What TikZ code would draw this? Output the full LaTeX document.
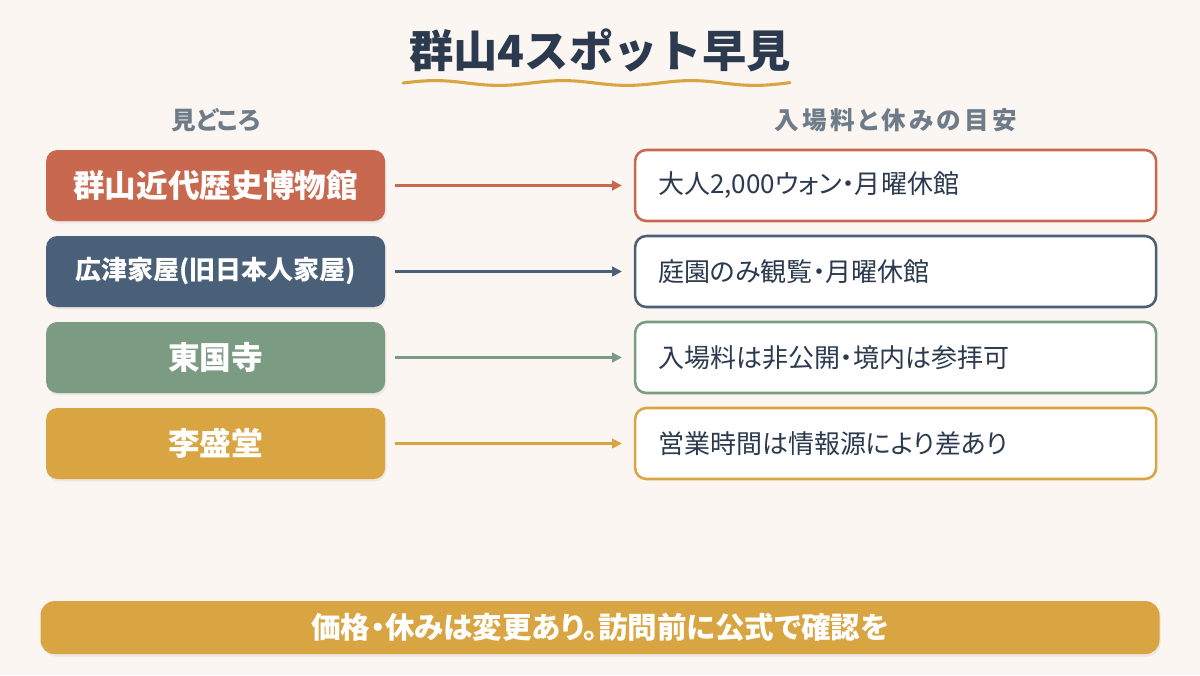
\documentclass[tikz,border=0pt]{standalone}
\usepackage{fontspec}
\usepackage{xcolor}
\usepackage{tikz}
\usetikzlibrary{shadows}
\usetikzlibrary{positioning, arrows.meta, calc}
\newfontfamily\jpfont[RawFeature=+palt]{Noto Sans CJK JP}
\newfontfamily\jptitle{Noto Sans CJK JP}

\definecolor{bgcream}{HTML}{FBF6F1}
\definecolor{titleink}{HTML}{2B3A4E}
\definecolor{headgray}{HTML}{6E7C8A}
\definecolor{terracotta}{HTML}{C8694F}
\definecolor{slate}{HTML}{4A5F78}
\definecolor{sage}{HTML}{7B9B82}
\definecolor{mustard}{HTML}{D9A542}

\begin{document}
\begin{tikzpicture}[
    spot/.style={rectangle, fill=#1, text=white, minimum width=8.475cm, minimum height=1.775cm,
        rounded corners=8pt, font=\jpfont\bfseries\fontsize{22.5}{27}\selectfont,
        drop shadow={opacity=0.12, shadow xshift=0.03cm, shadow yshift=-0.06cm}},
    info/.style={rectangle, draw=#1, line width=1.8pt, fill=white, text=titleink,
        text width=11.875cm, align=left, inner xsep=0.575cm, minimum height=1.775cm,
        rounded corners=8pt, font=\jpfont\fontsize{18.5}{22}\selectfont},
    link/.style={draw=#1, line width=1.5pt, -{Triangle[length=7pt, width=7pt]},
        shorten <=0.25cm, shorten >=0.3cm},
    header/.style={text=headgray, font=\jpfont\bfseries\fontsize{17.5}{21}\selectfont}
]
    % Canvas
    \useasboundingbox (0,0) rectangle (30,-16.875);
    \fill[bgcream] (0,0) rectangle (30,-16.875);

    % Title
    \node[text=titleink, font=\jptitle\bfseries\fontsize{31.5}{38}\selectfont] (title) at (15,-1.25) {群山4スポット早見};
    \draw[mustard, line width=2.2pt, line cap=round, domain=10.075:19.75, samples=90]
        plot (\x, {-2.075+0.06*sin(360*(\x-10.075)/3.2)});

    % Column headers
    \node[header] (hleft) at (5.39,-3.0) {見どころ};
    \node[header, font=\jpfont\bfseries\fontsize{17.5}{21}\selectfont\addfontfeature{LetterSpace=13}] (hright) at (22.39,-3.0) {入場料と休みの目安};

    % Spots
    \node[spot=terracotta] (museum) at (5.39,-4.6375) {群山近代歴史博物館};
    \node[spot=slate, font=\jpfont\bfseries\fontsize{18.5}{22}\selectfont] (hirotsu) at (5.39,-6.7875) {広津家屋(旧日本人家屋)};
    \node[spot=sage] (dongguk) at (5.39,-8.9375) {東国寺};
    \node[spot=mustard] (iseong) at (5.39,-11.0875) {李盛堂};

    % Fees and closing days
    \node[info=terracotta] (fee1) at (22.39,-4.6375) {大人2,000ウォン・月曜休館};
    \node[info=slate] (fee2) at (22.39,-6.7875) {庭園のみ観覧・月曜休館};
    \node[info=sage] (fee3) at (22.39,-8.9375) {入場料は非公開・境内は参拝可};
    \node[info=mustard] (fee4) at (22.39,-11.0875) {営業時間は情報源により差あり};

    % Connections
    \draw[link=terracotta] (museum) -- (fee1);
    \draw[link=slate] (hirotsu) -- (fee2);
    \draw[link=sage] (dongguk) -- (fee3);
    \draw[link=mustard] (iseong) -- (fee4);

    % Note
    \node[rectangle, fill=mustard, text=white, minimum width=27.975cm, minimum height=1.325cm,
        rounded corners=10pt, font=\jpfont\bfseries\fontsize{21}{25}\selectfont,
        drop shadow={opacity=0.12, shadow xshift=0.03cm, shadow yshift=-0.06cm}]
        (note) at (15,-15.69) {価格・休みは変更あり。訪問前に公式で確認を};
\end{tikzpicture}
\end{document}
